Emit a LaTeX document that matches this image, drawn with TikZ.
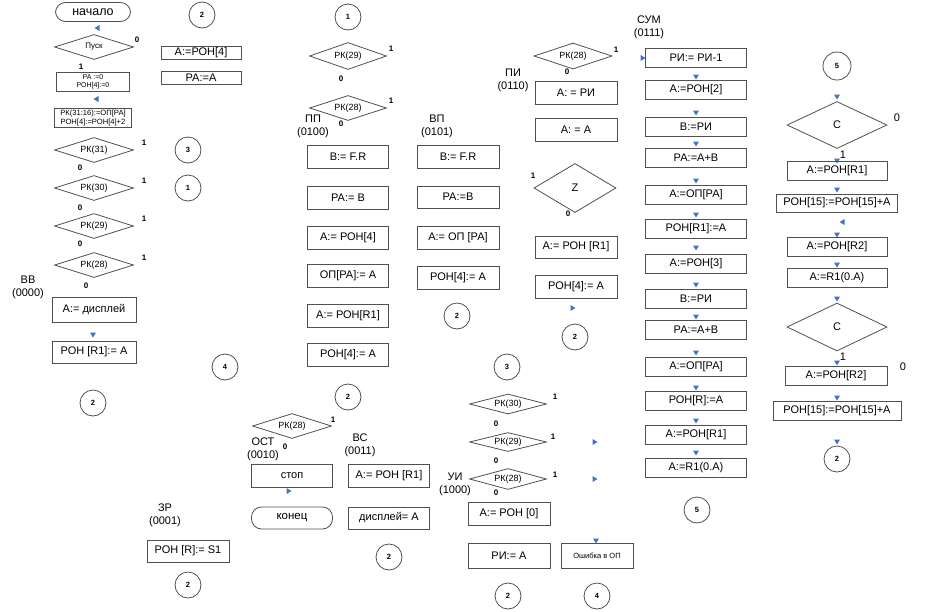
\documentclass[tikz,border=0pt]{standalone}
\usepackage{fontspec}
\setmainfont{Liberation Sans}
\usetikzlibrary{shapes.geometric}
\definecolor{tcol}{RGB}{68,114,196}
\definecolor{lcol}{RGB}{80,80,80}
\tikzset{
  bx/.style={draw=lcol, line width=0.8pt, rectangle, inner sep=0pt, align=center, font=\fontsize{11}{13}\selectfont},
  dm/.style={draw=lcol, line width=0.8pt, diamond, aspect=3, inner sep=0pt, font=\fontsize{9}{10}\selectfont},
  term/.style={draw=lcol, line width=0.8pt, rectangle, rounded corners=10pt, inner sep=0pt, font=\fontsize{12.5}{14}\selectfont},
  circ/.style={draw=lcol, line width=0.8pt, circle, minimum size=26pt, inner sep=0pt, font=\fontsize{7.5}{9}\selectfont\bfseries},
  lbl/.style={inner sep=0pt, font=\fontsize{8}{9}\selectfont\bfseries},
  capt/.style={inner sep=0pt, align=center, font=\fontsize{11}{13}\selectfont},
  tdown/.pic={\fill[tcol] (-3,-2.5)--(3,-2.5)--(0,2.5)--cycle;},
  tleft/.pic={\fill[tcol] (2.5,-3)--(2.5,3)--(-2.5,0)--cycle;},
  tright/.pic={\fill[tcol] (-2.5,-3)--(-2.5,3)--(2.5,0)--cycle;}
}
\begin{document}
\begin{tikzpicture}[x=1pt,y=-1pt]
\useasboundingbox (0,0) rectangle (932,611);
% ---------- column 1
\node[term, minimum width=75pt, minimum height=19pt] (start) at (93,12) {начало};
\pic at (97,28) {tleft};
\node[dm, minimum width=79pt, minimum height=25pt, font=\fontsize{8}{9}\selectfont] (pusk) at (94,47) {Пуск};
\node[lbl] (pusk0) at (137,40) {0};
\node[lbl] (pusk1) at (81,67) {1};
\node[bx, minimum width=73pt, minimum height=19pt, font=\fontsize{7}{8}\selectfont] (init) at (93,82) {РА :=0\\РОН[4]:=0};
\pic at (96,99) {tleft};
\node[bx, minimum width=77pt, minimum height=19pt, font=\fontsize{7.6}{8.4}\selectfont] (fetch) at (93,118) {РК(31:16):=ОП[РА]\\РОН[4]:=РОН[4]+2};
\node[dm, minimum width=79pt, minimum height=25pt] (a31) at (94,150) {РК(31)};
\node[dm, minimum width=79pt, minimum height=25pt] (a30) at (94,188) {РК(30)};
\node[dm, minimum width=79pt, minimum height=25pt] (a29) at (94,226) {РК(29)};
\node[dm, minimum width=79pt, minimum height=25pt] (a28) at (94,265) {РК(28)};
\node[lbl] (a31o) at (144,143) {1};
\node[lbl] (a30o) at (144,181) {1};
\node[lbl] (a29o) at (144,219) {1};
\node[lbl] (a28o) at (144,258) {1};
\node[lbl] (a31z) at (80,168) {0};
\node[lbl] (a30z) at (80,208) {0};
\node[lbl] (a29z) at (80,244) {0};
\node[lbl] (a28z) at (86,286) {0};
\node[capt] (vv) at (28,287) {ВВ\\(0000)};
\node[bx, minimum width=84pt, minimum height=25pt] (vv1) at (94,310) {А:= дисплей};
\pic at (93,335) {tdown};
\node[bx, minimum width=84pt, minimum height=22pt] (vv2) at (94,352) {РОН [R1]:= А};
\node[circ] (c1) at (93,403) {2};
% ---------- column 2
\node[circ] (c2) at (202,15) {2};
\node[bx, minimum width=80pt, minimum height=13pt] (b1) at (201,53) {А:=РОН[4]};
\node[bx, minimum width=80pt, minimum height=13pt] (b2) at (201,78) {РА:=А};
\node[circ] (c3) at (188,150) {3};
\node[circ] (c4) at (188,188) {1};
\node[circ] (c5) at (225,367) {4};
% ---------- column 3
\node[circ] (c6) at (348,17) {1};
\node[dm, minimum width=77pt, minimum height=27pt] (p29) at (348,56) {РК(29)};
\node[lbl] (p29o) at (391,49) {1};
\node[lbl] (p29z) at (341,79) {0};
\node[dm, minimum width=77pt, minimum height=25pt] (p28) at (348,108) {РК(28)};
\node[lbl] (p28o) at (391,101) {1};
\node[lbl] (p28z) at (341,124) {0};
\node[capt] (pp) at (313,126) {ПП\\(0100)};
\node[capt] (vp) at (437,126) {ВП\\(0101)};
\node[bx, minimum width=81pt, minimum height=23pt] (pp1) at (348,157) {В:= F.R};
\node[bx, minimum width=81pt, minimum height=23pt] (pp2) at (348,198) {РА:= В};
\node[bx, minimum width=81pt, minimum height=23pt] (pp3) at (348,238) {А:= РОН[4]};
\node[bx, minimum width=81pt, minimum height=23pt] (pp4) at (348,276) {ОП[РА]:= А};
\node[bx, minimum width=81pt, minimum height=23pt] (pp5) at (348,316) {А:= РОН[R1]};
\node[bx, minimum width=81pt, minimum height=23pt] (pp6) at (348,355) {РОН[4]:= А};
\node[circ] (c7) at (348,397) {2};
% ---------- column 4
\node[bx, minimum width=82pt, minimum height=23pt] (vp1) at (458,157) {В:= F.R};
\node[bx, minimum width=82pt, minimum height=22pt] (vp2) at (458,197) {РА:=В};
\node[bx, minimum width=82pt, minimum height=23pt] (vp3) at (458,238) {А:= ОП [РА]};
\node[bx, minimum width=82pt, minimum height=23pt] (vp4) at (458,278) {РОН[4]:= А};
\node[circ] (c8) at (457,316) {2};
\node[circ] (c9) at (507,367) {3};
% ---------- column 5
\node[dm, minimum width=78pt, minimum height=26pt] (q28) at (573,56) {РК(28)};
\node[lbl] (q28o) at (616,50) {1};
\node[lbl] (q28z) at (567,72) {0};
\node[capt] (pi) at (513,80) {ПИ\\(0110)};
\node[bx, minimum width=82pt, minimum height=23pt] (pi1) at (576,93) {А: = РИ};
\node[bx, minimum width=82pt, minimum height=23pt] (pi2) at (576,130) {А: = А};
\node[dm, minimum width=82pt, minimum height=49pt, font=\fontsize{11}{13}\selectfont] (z) at (575,188) {Z};
\node[lbl] (zo) at (533,176) {1};
\node[lbl] (zz) at (568,214) {0};
\node[bx, minimum width=82pt, minimum height=22pt] (pi3) at (576,247) {А:= РОН [R1]};
\node[bx, minimum width=82pt, minimum height=23pt] (pi4) at (576,287) {РОН[4]:= А};
\pic at (573,308) {tright};
\node[circ] (c10) at (575,337) {2};
% ---------- column 6 (СУМ)
\node[capt] (sum) at (649,27) {СУМ\\(0111)};
\pic at (643,58) {tright};
\node[bx, minimum width=101pt, minimum height=19pt] (s1) at (696,58) {РИ:= РИ-1};
\node[bx, minimum width=101pt, minimum height=19pt] (s2) at (696,90) {А:=РОН[2]};
\node[bx, minimum width=101pt, minimum height=19pt] (s3) at (696,127) {В:=РИ};
\node[bx, minimum width=101pt, minimum height=19pt] (s4) at (696,158) {РА:=А+В};
\node[bx, minimum width=101pt, minimum height=19pt] (s5) at (696,195) {А:=ОП[РА]};
\node[bx, minimum width=101pt, minimum height=19pt] (s6) at (696,229) {РОН[R1]:=А};
\node[bx, minimum width=101pt, minimum height=19pt] (s7) at (696,264) {А:=РОН[3]};
\node[bx, minimum width=101pt, minimum height=19pt] (s8) at (696,299) {В:=РИ};
\node[bx, minimum width=101pt, minimum height=19pt] (s9) at (696,330) {РА:=А+В};
\node[bx, minimum width=101pt, minimum height=19pt] (s10) at (696,367) {А:=ОП[РА]};
\node[bx, minimum width=101pt, minimum height=19pt] (s11) at (696,401) {РОН[R]:=А};
\node[bx, minimum width=101pt, minimum height=19pt] (s12) at (696,435) {А:=РОН[R1]};
\node[bx, minimum width=101pt, minimum height=19pt] (s13) at (696,468) {А:=R1(0.А)};
\foreach \yy in {77,113,144,181,215,248,285,317,353,388,421,453} \pic at (696,\yy) {tdown};
\node[circ] (c11) at (697,510) {5};
% ---------- column 7
\node[circ, minimum size=28pt] (c12) at (837,66) {5};
\pic at (837,97) {tdown};
\node[dm, minimum width=100pt, minimum height=47pt, font=\fontsize{11}{13}\selectfont] (cc1) at (837,125) {С};
\node[capt] (cc1z) at (897,118) {0};
\node[capt] (cc1o) at (843,155) {1};
\pic at (837,161) {tdown};
\node[bx, minimum width=100pt, minimum height=19pt] (r1) at (837,171) {А:=РОН[R1]};
\pic at (837,190) {tdown};
\node[bx, minimum width=121pt, minimum height=18pt] (r2) at (837,203) {РОН[15]:=РОН[15]+А};
\pic at (842,222) {tleft};
\pic at (837,235) {tdown};
\node[bx, minimum width=100pt, minimum height=19pt] (r3) at (837,247) {А:=РОН[R2]};
\pic at (837,265) {tdown};
\node[bx, minimum width=100pt, minimum height=19pt] (r4) at (837,278) {А:=R1(0.А)};
\pic at (837,299) {tdown};
\node[dm, minimum width=100pt, minimum height=48pt, font=\fontsize{11}{13}\selectfont] (cc2) at (837,327) {С};
\node[capt] (cc2o) at (843,357) {1};
\node[capt] (cc2z) at (903,367) {0};
\pic at (837,363) {tdown};
\node[bx, minimum width=102pt, minimum height=19pt] (r5) at (836,376) {А:=РОН[R2]};
\pic at (837,398) {tdown};
\node[bx, minimum width=128pt, minimum height=19pt] (r6) at (837,411) {РОН[15]:=РОН[15]+А};
\pic at (837,442) {tdown};
\node[circ] (c13) at (837,459) {2};
% ---------- bottom middle
\node[dm, minimum width=79pt, minimum height=25pt] (o28) at (292,426) {РК(28)};
\node[lbl] (o28o) at (333,420) {1};
\node[lbl] (o28z) at (285,447) {0};
\node[capt] (ost) at (263,449) {ОСТ\\(0010)};
\node[capt] (vs) at (360,445) {ВС\\(0011)};
\node[bx, minimum width=81pt, minimum height=23pt] (stop) at (292,476) {стоп};
\pic at (289,491) {tright};
\node[term, minimum width=81pt, minimum height=22pt, font=\fontsize{11.5}{13}\selectfont] (fin) at (292,518) {конец};
\node[bx, minimum width=81pt, minimum height=23pt] (vs1) at (389,476) {А:= РОН [R1]};
\node[bx, minimum width=81pt, minimum height=22pt] (vs2) at (389,518) {дисплей= А};
\node[circ] (c14) at (389,557) {2};
\node[capt] (zr) at (165,515) {ЗР\\(0001)};
\node[bx, minimum width=82pt, minimum height=22pt] (zr1) at (188,551) {РОН [R]:= S1};
\node[circ] (c15) at (188,585) {2};
% ---------- bottom right
\node[dm, minimum width=77pt, minimum height=20pt] (u30) at (508,404) {РК(30)};
\node[lbl] (u30o) at (555,397) {1};
\node[lbl] (u30z) at (496,424) {0};
\node[dm, minimum width=77pt, minimum height=19pt] (u29) at (508,442) {РК(29)};
\node[lbl] (u29o) at (553,437) {1};
\node[lbl] (u29z) at (496,461) {0};
\pic at (595,442) {tright};
\node[dm, minimum width=77pt, minimum height=21pt] (u28) at (508,479) {РК(28)};
\node[lbl] (u28o) at (555,475) {1};
\node[lbl] (u28z) at (496,493) {0};
\pic at (595,479) {tright};
\node[capt] (ui) at (455,484) {УИ\\(1000)};
\node[bx, minimum width=82pt, minimum height=23pt] (ui1) at (509,514) {А:= РОН [0]};
\node[bx, minimum width=82pt, minimum height=25pt] (ui2) at (509,556) {РИ:= А};
\pic at (596,541) {tdown};
\node[bx, minimum width=72pt, minimum height=25pt, font=\fontsize{7.5}{9}\selectfont] (err) at (597,556) {Ошибка в ОП};
\node[circ] (c16) at (508,596) {2};
\node[circ] (c17) at (597,596) {4};
\end{tikzpicture}
\end{document}
